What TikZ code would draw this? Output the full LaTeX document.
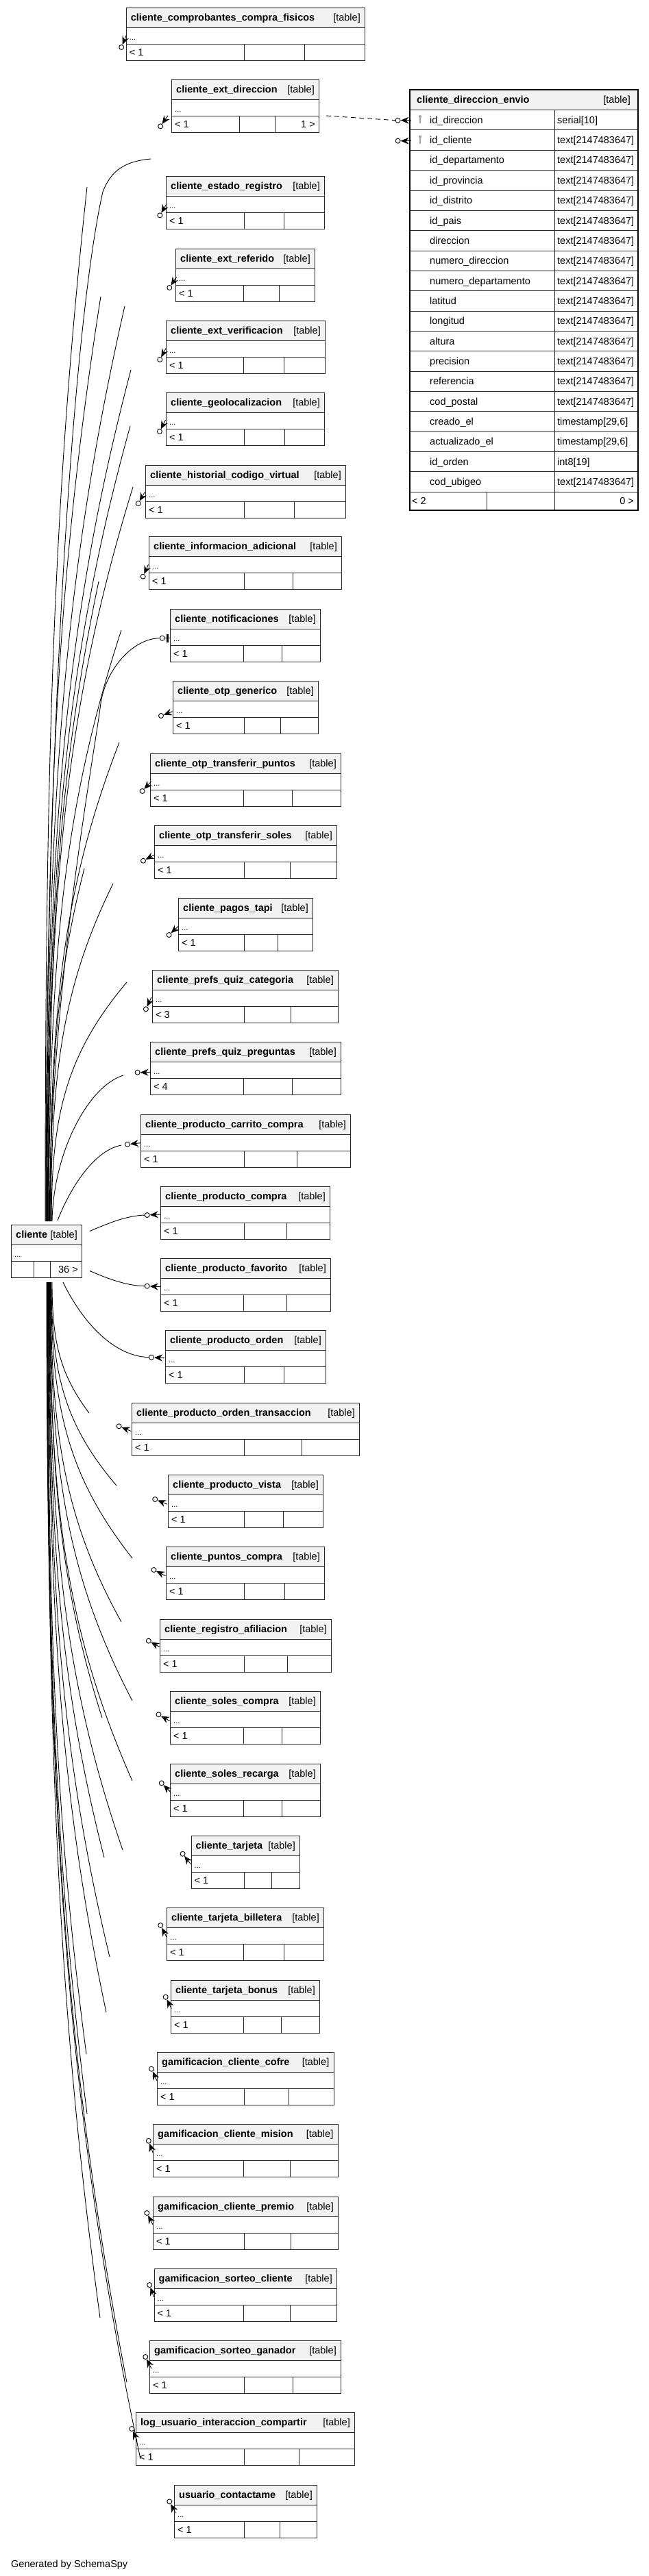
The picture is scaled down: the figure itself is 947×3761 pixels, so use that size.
\documentclass[tikz,border=0pt]{standalone}
\usepackage{fontspec}
\setmainfont{Liberation Sans}
\usetikzlibrary{arrows.meta,calc}
\tikzset{
  tline/.style={draw=black!85,line width=1pt},
  hdrfill/.style={fill=black!5},
  edge/.style={draw=black,line width=0.9pt},
  txt/.style={inner sep=0pt,font=\fontsize{14.5}{16}\selectfont},
  htxt/.style={inner sep=0pt,font=\fontsize{14.5}{16}\selectfont\bfseries},
  dotstxt/.style={inner sep=0pt,font=\fontsize{11}{12}\selectfont},
  ring/.style={draw=black,line width=0.9pt,fill=white},
  foot/.style={-{Stealth[length=12pt,width=10pt,inset=4pt]},line width=0.9pt},
}
% table: id, title, L, R, T, d1, d2, left footer, right footer
\newcommand{\dbt}[9]{%
  \fill[hdrfill] (#3,#5) rectangle (#4,#5+29);
  \draw[tline] (#3,#5+29) -- (#4,#5+29);
  \draw[tline] (#3,#5+53) -- (#4,#5+53);
  \draw[tline] (#6,#5+53) -- (#6,#5+77);
  \draw[tline] (#7,#5+53) -- (#7,#5+77);
  \node[tline,rectangle,anchor=north west,inner sep=0pt,minimum width=#4-#3,minimum height=77] (#1) at (#3,#5) {};
  \node[htxt,anchor=base west] (#1-t) at (#3+7,#5+19.5) {#2};
  \node[txt,anchor=base east] (#1-k) at (#4-6,#5+19.5) {[table]};
  \node[dotstxt,anchor=base west] (#1-d) at (#3+5,#5+47.5) {...};
  \node[txt,anchor=base west] (#1-l) at (#3+5,#5+70.5) {#8};
  \node[txt,anchor=base east] (#1-r) at (#4-5,#5+70.5) {#9};
}
% marker: id, cx, cy, angle (y downwards)
\newcommand{\mk}[4]{%
  \coordinate (#1) at (#2,#3);
  \draw[foot] ($(#1)+(#4:19)$) -- ($(#1)+(#4:4)$);
  \draw[ring] (#1) circle[radius=3.5];
}
% upper edge: id, xs, xe, ye
\newcommand{\upe}[4]{%
  \coordinate (#1) at (#3,#4);
  \draw[edge] ($(cli.north west)+({#2-16},-5)$) .. controls (#2,{1783-0.45*(1783-#4)}) and ({#2+0.2*(#3-#2)},{#4+0.3*(1783-#4)}) .. (#1);
}
% lower edge: id, xs, xe, ye
\newcommand{\dne}[4]{%
  \coordinate (#1) at (#3,#4);
  \draw[edge] ($(cli.south west)+({#2-16},6)$) .. controls (#2,{1871+0.45*(#4-1871)}) and ({#2+0.2*(#3-#2)},{#4-0.3*(#4-1871)}) .. (#1);
}
\begin{document}
\begin{tikzpicture}[x=1pt,y=-1pt]
\useasboundingbox (0,0) rectangle (947,3761);
\fill[white] (0,0) rectangle (947,3761);

% ---------- tables ----------
\dbt{t1}{cliente\_comprobantes\_compra\_fisicos}{183.7}{532}{11}{356}{444}{< 1}{}
\dbt{t2}{cliente\_ext\_direccion}{250}{465}{116}{349}{401}{< 1}{1 >}
\dbt{t3}{cliente\_estado\_registro}{242}{473}{257}{356}{414}{< 1}{}
\dbt{t4}{cliente\_ext\_referido}{256}{459}{363}{355}{407}{< 1}{}
\dbt{t5}{cliente\_ext\_verificacion}{242}{474}{468}{355}{414}{< 1}{}
\dbt{t6}{cliente\_geolocalizacion}{242}{473}{573}{356}{415}{< 1}{}
\dbt{t7}{cliente\_historial\_codigo\_virtual}{212}{504}{679}{356}{429}{< 1}{}
\dbt{t8}{cliente\_informacion\_adicional}{217}{498}{783}{356}{427}{< 1}{}
\dbt{t9}{cliente\_notificaciones}{248}{467}{889}{355}{411}{< 1}{}
\dbt{t10}{cliente\_otp\_generico}{252}{464}{994}{356}{409}{< 1}{}
\dbt{t11}{cliente\_otp\_transferir\_puntos}{219}{497}{1100}{355}{426}{< 1}{}
\dbt{t12}{cliente\_otp\_transferir\_soles}{225}{491}{1205}{356}{423}{< 1}{}
\dbt{t13}{cliente\_pagos\_tapi}{260}{456}{1311}{356}{405}{< 1}{}
\dbt{t14}{cliente\_prefs\_quiz\_categoria}{222}{493}{1416}{356}{424}{< 3}{}
\dbt{t15}{cliente\_prefs\_quiz\_preguntas}{219}{497}{1521}{355}{426}{< 4}{}
\dbt{t16}{cliente\_producto\_carrito\_compra}{205}{511}{1627}{356}{433}{< 1}{}
\dbt{t17}{cliente\_producto\_compra}{234}{481}{1732}{356}{418}{< 1}{}
\dbt{t18}{cliente\_producto\_favorito}{234}{482}{1837}{355}{418}{< 1}{}
\dbt{t19}{cliente\_producto\_orden}{241}{475}{1942}{356}{414}{< 1}{}
\dbt{t20}{cliente\_producto\_orden\_transaccion}{192}{524}{2048}{356}{440}{< 1}{}
\dbt{t21}{cliente\_producto\_vista}{245}{471}{2153}{356}{413}{< 1}{}
\dbt{t22}{cliente\_puntos\_compra}{242}{473}{2258}{356}{415}{< 1}{}
\dbt{t23}{cliente\_registro\_afiliacion}{233}{483}{2364}{356}{419}{< 1}{}
\dbt{t24}{cliente\_soles\_compra}{248}{467}{2469}{355}{411}{< 1}{}
\dbt{t25}{cliente\_soles\_recarga}{248}{467}{2575}{355}{411}{< 1}{}
\dbt{t26}{cliente\_tarjeta}{278.5}{437}{2680}{356}{396}{< 1}{}
\dbt{t27}{cliente\_tarjeta\_billetera}{243}{472}{2785}{355}{414}{< 1}{}
\dbt{t28}{cliente\_tarjeta\_bonus}{249}{466}{2891}{355}{410}{< 1}{}
\dbt{t29}{gamificacion\_cliente\_cofre}{229}{486.5}{2996}{356}{421}{< 1}{}
\dbt{t30}{gamificacion\_cliente\_mision}{223}{492.5}{3101}{355}{423}{< 1}{}
\dbt{t31}{gamificacion\_cliente\_premio}{223}{493}{3207}{356}{424}{< 1}{}
\dbt{t32}{gamificacion\_sorteo\_cliente}{224.5}{491}{3312}{355}{423}{< 1}{}
\dbt{t33}{gamificacion\_sorteo\_ganador}{218}{497}{3417}{356}{427}{< 1}{}
\dbt{t34}{log\_usuario\_interaccion\_compartir}{198}{517}{3522}{356}{436}{< 1}{}
\dbt{t35}{usuario\_contactame}{254}{462}{3628}{356}{408}{< 1}{}
\dbt{cli}{cliente}{16}{119}{1788}{49}{73}{}{36 >}

% ---------- cliente_direccion_envio ----------
\fill[hdrfill] (597,130.4) rectangle (930,160.6);
\draw[tline] (597,160.6) -- (930,160.6);
\foreach \n/\ty [count=\i] in {id\_direccion/serial[10], id\_cliente/text[2147483647], id\_departamento/text[2147483647], id\_provincia/text[2147483647], id\_distrito/text[2147483647], id\_pais/text[2147483647], direccion/text[2147483647], numero\_direccion/text[2147483647], numero\_departamento/text[2147483647], latitud/text[2147483647], longitud/text[2147483647], altura/text[2147483647], precision/text[2147483647], referencia/text[2147483647], cod\_postal/text[2147483647], creado\_el/{timestamp[29,6]}, actualizado\_el/{timestamp[29,6]}, id\_orden/int8[19], cod\_ubigeo/text[2147483647]} {
  \draw[tline] (597,{160.6+29.35*\i}) -- (930,{160.6+29.35*\i});
  \node[txt,anchor=base west] (en-n\i) at (627,{160.6+29.35*(\i-0.5)+5}) {\n};
  \node[txt,anchor=base west] (en-t\i) at (813,{160.6+29.35*(\i-0.5)+5}) {\ty};
}
\draw[tline] (809,160.6) -- (809,744);
\draw[tline] (710,718.3) -- (710,744);
\foreach \k in {1,2} {
  \fill[black!35] (613,{160.6+29.35*(\k-0.5)-5}) circle[radius=2.2];
  \draw[black!35,line width=1.3pt] (613,{160.6+29.35*(\k-0.5)-4}) -- (613,{160.6+29.35*(\k-0.5)+5});
}
\node[draw=black,line width=2pt,rectangle,anchor=north west,inner sep=0pt,minimum width=333,minimum height=613.6] (envio) at (597,130.4) {};
\node[htxt,anchor=base west] (envio-t) at (608,150) {cliente\_direccion\_envio};
\node[txt,anchor=base east] (envio-k) at (920,150) {[table]};
\node[txt,anchor=base west] (envio-l) at (601,736) {< 2};
\node[txt,anchor=base east] (envio-r) at (925,736) {0 >};

% ---------- markers ----------
\mk{m1}{177.2}{69}{-68}
\mk{m2}{234.2}{184.3}{-55}
\mk{m3}{233.4}{314.3}{-60}
\mk{m4}{247.3}{420}{-57}
\mk{m5}{233.3}{525}{-62}
\mk{m6}{232.9}{630}{-63}
\mk{m7}{201.7}{735}{-60}
\mk{m8}{208.7}{841.7}{-66}
\mk{m10}{235}{1045}{-20}
\mk{m11}{207.6}{1155}{-47}
\mk{m12}{209}{1256.7}{-28}
\mk{m13}{246.6}{1365}{-43}
\mk{m14}{212.9}{1473.3}{-65}
\mk{m15}{200.6}{1565.7}{0}
\mk{m16}{185.9}{1670.7}{-6}
\mk{m17}{214.7}{1774}{-3}
\mk{m18}{214.7}{1877.7}{3}
\mk{m19}{221}{1981.7}{3}
\mk{m20}{173.6}{2082.3}{22}
\mk{m21}{226.2}{2189}{22}
\mk{m22}{224.5}{2292}{27}
\mk{m23}{216.8}{2395.7}{29}
\mk{m24}{231.5}{2503.3}{30}
\mk{m25}{235.7}{2603.3}{45}
\mk{m26}{266.6}{2706.7}{52}
\mk{m27}{234.3}{2811}{63}
\mk{m28}{241.7}{2915.7}{63}
\mk{m29}{221}{3020.7}{65}
\mk{m30}{216.8}{3125.7}{70}
\mk{m31}{214.3}{3231}{63}
\mk{m32}{218.2}{3336}{70}
\mk{m33}{212.3}{3441}{63}
\mk{m34}{192.3}{3546}{66}
\mk{m35}{247.3}{3652.3}{62}
\mk{e1}{580.6}{175.7}{0}
\mk{e2}{580.6}{205.7}{0}
% notificaciones: zero-or-one
\coordinate (m9) at (236.8,931.7);
\draw[edge] (240.3,931.7) -- (t9.west |- m9);
\draw[line width=2.6pt] (244.5,925.5) -- (244.5,938);
\draw[ring] (m9) circle[radius=3.5];

% ---------- dashed implied relation ----------
\draw[edge,dash pattern=on 7pt off 5pt] ($(t2.north east)+(10,53)$) -- ($(e1)+(-3.5,0)$);

% ---------- edges above cliente ----------
\upe{uA}{66}{127}{273}
\coordinate (uB) at (220,232);
\draw[edge] ($(cli.north west)+(50.7,-5)$) .. controls (66.7,1100) and (105,480) .. (150,280) .. controls (160,255) and (175,236) .. (uB);
\upe{uC}{67.4}{147}{433}
\upe{uD}{68.1}{182}{447}
\upe{uE}{68.8}{191}{540}
\upe{uF}{69.5}{190}{622}
\upe{uG}{70.2}{194}{711}
\upe{uH}{70.9}{144}{849}
\upe{uI}{71.6}{177}{920}
\draw[edge] ($(cli.north west)+(56.3,-5)$) .. controls (72.3,1450) and (138,1100) .. (147,1027) .. controls (155,975) and (195,932) .. ($(m9)+(-3.5,0)$);
\upe{uK}{73}{174}{1084}
\upe{uL}{73.7}{123}{1268}
\upe{uM}{74.4}{165}{1290}
\upe{uN}{75.1}{185}{1434}
\coordinate (uO) at (180,1570);
\draw[edge] ($(cli.north west)+(60,-5)$) .. controls (78,1680) and (130,1585) .. (uO);
\coordinate (uP) at (177,1672);
\draw[edge] ($(cli.north west)+(68,-6)$) .. controls (100,1740) and (135,1680) .. (uP);

% ---------- edges right of cliente ----------
\draw[edge] ($(cli.east)+(11,-29.5)$) .. controls (160,1785) and (185,1775) .. ($(m17)+(-3.5,0)$);
\draw[edge] ($(cli.east)+(11,28.5)$) .. controls (160,1868) and (185,1877) .. ($(m18)+(-3.5,0)$);
\draw[edge] ($(cli.south west)+(76,6)$) .. controls (115,1920) and (160,1980) .. ($(m19)+(-3.5,0)$);

% ---------- edges below cliente ----------
\dne{da}{76}{130}{2063}
\dne{db}{75}{170}{2169}
\dne{dc}{74.5}{193}{2275}
\dne{dd}{74}{177}{2368}
\dne{de}{73.5}{193}{2483}
\dne{df}{73}{149}{2508}
\dne{dg}{72.5}{193}{2600}
\dne{dh}{72}{179}{2701}
\dne{di}{71.5}{152}{2712}
\dne{dj}{71}{160}{2857}
\dne{dk}{70.5}{155}{2938}
\dne{dl}{70}{126}{2999}
\dne{dm}{69.5}{127}{3086}
\dne{dn}{69}{146}{3384}
\dne{do}{68.5}{185}{3478}
\dne{dp}{68}{205}{3590}

\node[txt,anchor=base west] (gen) at (16,3748) {Generated by SchemaSpy};
\end{tikzpicture}
\end{document}
